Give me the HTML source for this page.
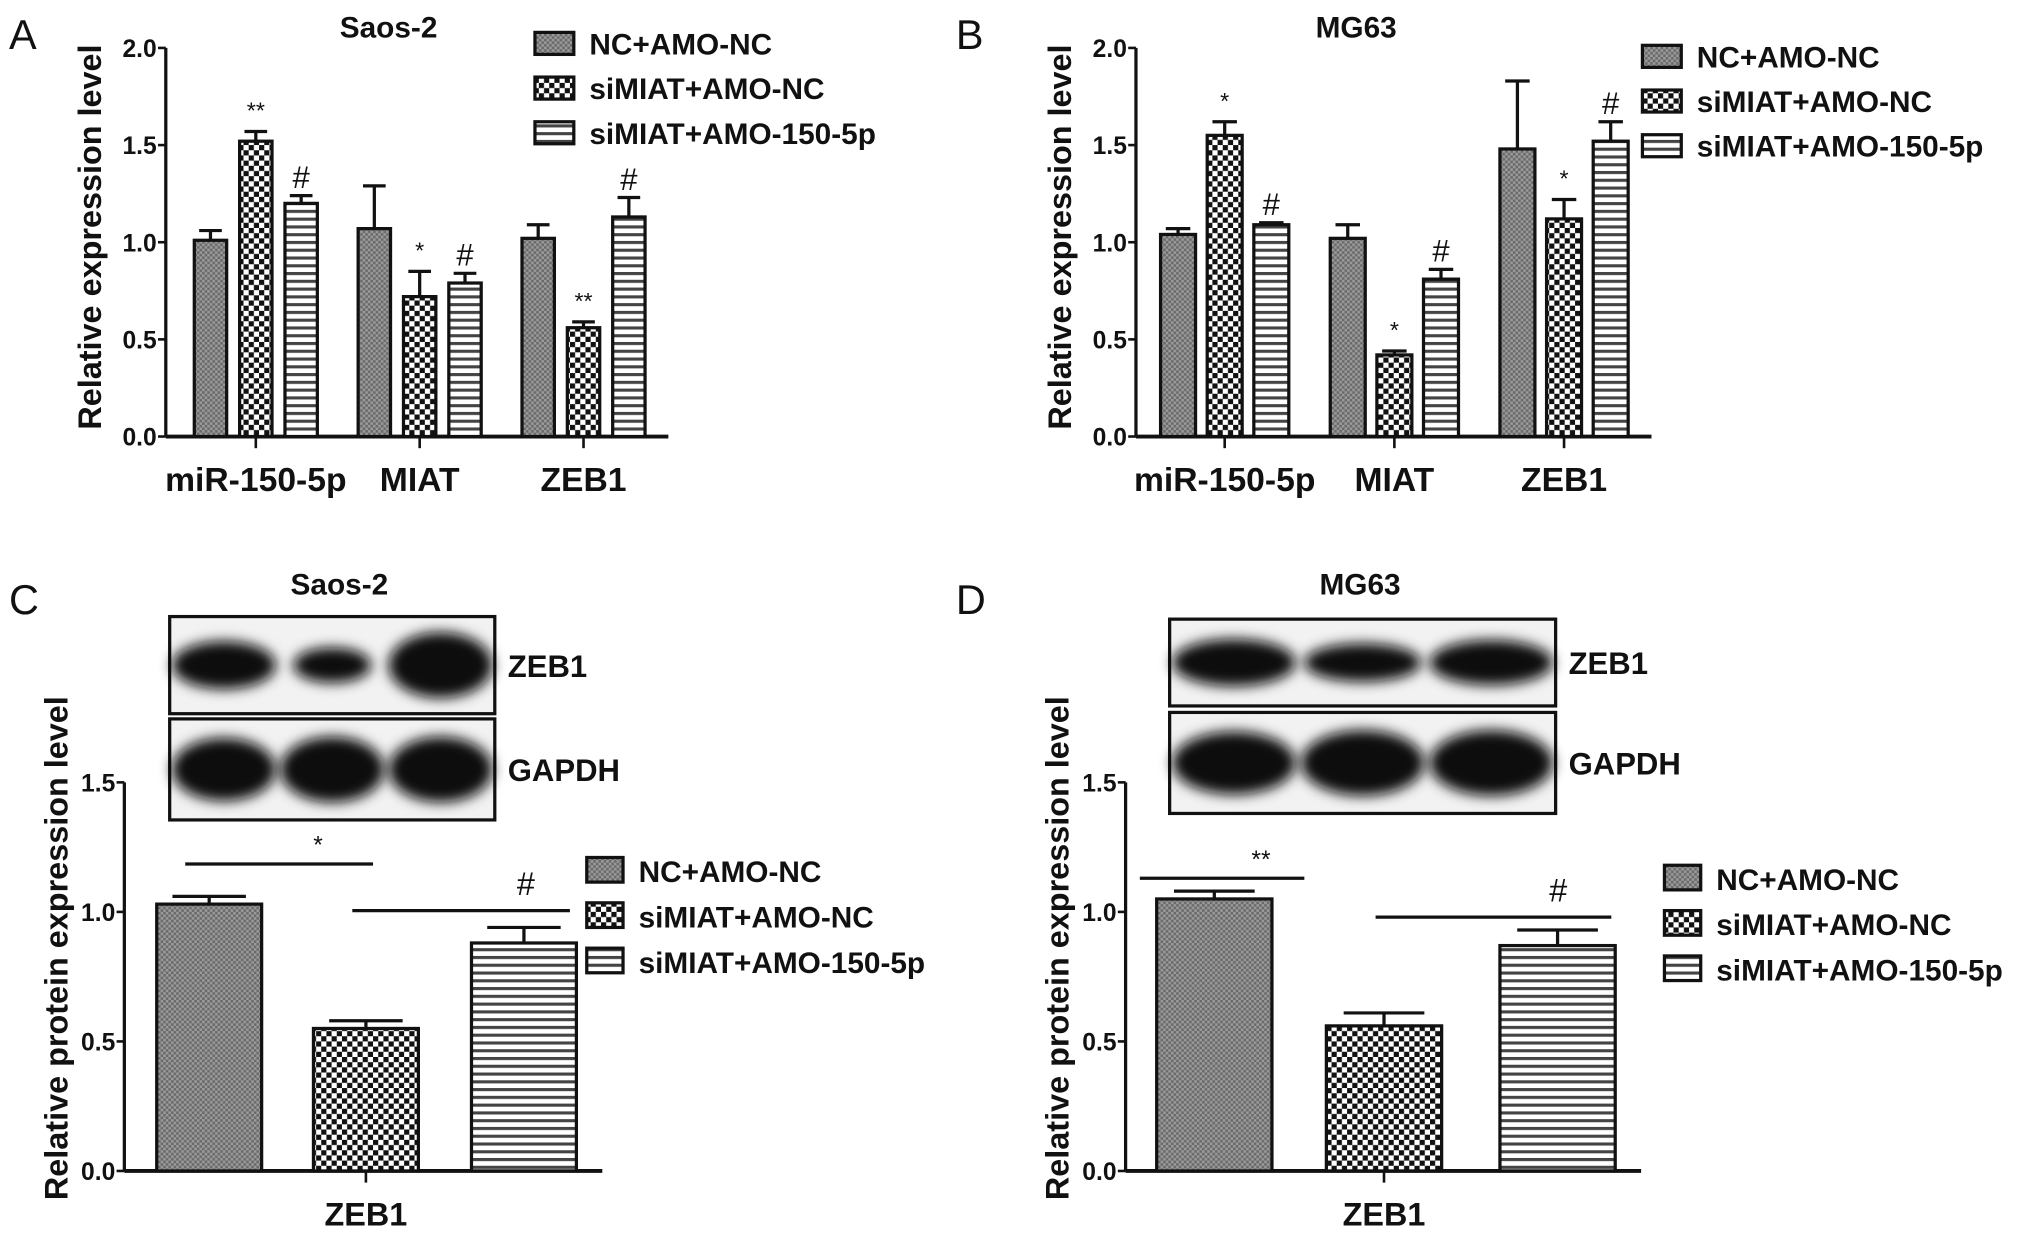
<!DOCTYPE html>
<html><head><meta charset="utf-8"><style>
html,body{margin:0;padding:0;background:#fff;}
svg{display:block;}
text{font-family:"Liberation Sans",Arial,sans-serif;}
</style></head><body>
<svg id="fig" xmlns="http://www.w3.org/2000/svg" width="2031" height="1240" viewBox="0 0 1568 957.3" preserveAspectRatio="none">
<defs>
<pattern id="patNC" width="4" height="4" patternUnits="userSpaceOnUse"><rect width="4" height="4" fill="#6a6a6a"/><rect width="2" height="2" fill="#9a9a9a"/><rect x="2" y="2" width="2" height="2" fill="#9a9a9a"/></pattern>
<pattern id="patSI" width="8" height="8" patternUnits="userSpaceOnUse"><rect width="8" height="8" fill="#fff"/><rect width="4" height="4" fill="#111"/><rect x="4" y="4" width="4" height="4" fill="#111"/></pattern>
<pattern id="patAMO" width="6" height="6" patternUnits="userSpaceOnUse"><rect width="6" height="6" fill="#fff"/><rect y="0" width="6" height="2.4" fill="#444"/></pattern>
<filter id="blur" x="-20%" y="-50%" width="140%" height="200%"><feGaussianBlur stdDeviation="5"/></filter>
</defs>
</svg>
<script>
// ---- data ----
const groupsTop = ["miR-150-5p","MIAT","ZEB1"];
const seriesNames = ["NC+AMO-NC","siMIAT+AMO-NC","siMIAT+AMO-150-5p"];
const aNC  = [1.01,1.07,1.02];
const aSi  = [1.52,0.72,0.56];
const aAmo = [1.20,0.79,1.13];
const aNCErr  = [0.05,0.22,0.07];
const aSiErr  = [0.05,0.13,0.03];
const aAmoErr = [0.04,0.05,0.10];
const aSiMark  = ["**","*","**"];
const aAmoMark = ["#","#","#"];
const bNC  = [1.04,1.02,1.48];
const bSi  = [1.55,0.42,1.12];
const bAmo = [1.09,0.81,1.52];
const bNCErr  = [0.03,0.07,0.35];
const bSiErr  = [0.07,0.02,0.10];
const bAmoErr = [0.01,0.05,0.10];
const bSiMark  = ["*","*","*"];
const bAmoMark = ["#","#","#"];
const topTicks = [0,0.5,1.0,1.5,2.0];
const botTicks = [0,0.5,1.0,1.5];
const cVals = [1.03,0.55,0.88];
const cErr  = [0.03,0.03,0.06];
const dVals = [1.05,0.56,0.87];
const dErr  = [0.03,0.05,0.06];
const cSig = ["*","#"];
const dSig = ["**","#"];

const svg = document.getElementById('fig');
const NS = "http://www.w3.org/2000/svg";
function el(tag, attrs, parent){
  const e = document.createElementNS(NS, tag);
  for (const k in attrs) e.setAttribute(k, attrs[k]);
  (parent||svg).appendChild(e);
  return e;
}
function txt(s, x, y, size, opts, parent){
  const t = el('text', Object.assign({x:x, y:y, 'font-size':size, 'font-weight':'bold', fill:'#111'}, opts||{}), parent);
  t.textContent = s;
  return t;
}
const pats = ["url(#patNC)","url(#patSI)","url(#patAMO)"];

function axes(g, x0, y0, yTop, xEnd, ticks, max){
  const ys = v => y0 - (v/max)*(y0-yTop);
  el('line',{x1:x0,y1:y0,x2:x0,y2:yTop,stroke:'#111','stroke-width':2.5},g);
  el('line',{x1:x0,y1:y0,x2:xEnd,y2:y0,stroke:'#111','stroke-width':3},g);
  ticks.forEach(v=>{
    el('line',{x1:x0-6,y1:ys(v),x2:x0,y2:ys(v),stroke:'#111','stroke-width':2},g);
    const t = txt(v.toFixed(1), x0-7, ys(v)+7, 19, {'text-anchor':'end'}, g);
    
    
  });
  return ys;
}
function bar(g, x, w, v, err, ys, pi){
  const r = el('rect',{x:x,y:ys(v),width:w,height:ys(0)-ys(v),fill:pats[pi],stroke:'#111','stroke-width':2.5},g);
  
  
  const cx = x + w/2, ye = ys(v+err);
  el('line',{x1:cx,y1:ys(v),x2:cx,y2:ye,stroke:'#111','stroke-width':2.5},g);
  el('line',{x1:cx-w*0.35,y1:ye,x2:cx+w*0.35,y2:ye,stroke:'#111','stroke-width':2.5},g);
  return ye;
}
function legend(g, x, y0, dy, sw, sh, fs){
  seriesNames.forEach((n,i)=>{
    const lg = el('g',{},g);
    
    
    el('rect',{x:x,y:y0+i*dy,width:sw,height:sh,fill:pats[i],stroke:'#111','stroke-width':2.5},lg);
    txt(n, x+sw+12, y0+i*dy+sh, fs, {}, lg);
  });
}

// ---- Panel top (A/B) ----
function topPanel(cfg){
  const g = el('g',{});
  
  
  const ys = axes(g, cfg.x0, 337, 37, cfg.xEnd, topTicks, 2.0);
  const sets = [[cfg.nc,cfg.ncE,null],[cfg.si,cfg.siE,cfg.siM],[cfg.amo,cfg.amoE,cfg.amoM]];
  groupsTop.forEach((gn,gi)=>{
    const gx = cfg.g0 + gi*cfg.gs;
    sets.forEach((s,si)=>{
      const bx = gx + si*cfg.off;
      const ye = bar(g, bx, cfg.bw, s[0][gi], s[1][gi], ys, si);
      if (s[2]) {
        const m = s[2][gi];
        const t = txt(m, bx+cfg.bw/2, ye-(m==="#"?6:10), m==="#"?24:18, {'text-anchor':'middle','font-weight':'normal'}, g);
        
        
      }
    });
    const cx = gx + cfg.off + cfg.bw/2;
    el('line',{x1:cx,y1:337,x2:cx,y2:346,stroke:'#111','stroke-width':2},g);
    const t = txt(gn, cx, 379, 26, {'text-anchor':'middle'}, g);
    
    
  });
  const yl = txt("Relative expression level", 0, 0, 25, {'text-anchor':'middle', transform:`translate(${cfg.x0-50},183) rotate(-90)`}, g);
  
  
  const ti = txt(cfg.title, cfg.tx, 29, 23, {'text-anchor':'middle'}, g);
  
  
  const pl = txt(cfg.letter, cfg.lx, 38, 32, {'font-weight':'normal'}, g);
  
  
  legend(g, cfg.legX, cfg.legY, 34.5, 30, 17, 23);
}
topPanel({name:'panel-a', x0:128, xEnd:516, g0:150, gs:126.5, off:35, bw:25,
  nc:aNC,ncE:aNCErr,si:aSi,siE:aSiErr,siM:aSiMark,amo:aAmo,amoE:aAmoErr,amoM:aAmoMark,
  title:'Saos-2', tx:300, letter:'A', lx:7, legX:413, legY:25});
topPanel({name:'panel-b', x0:877, xEnd:1275, g0:896, gs:131, off:36, bw:27,
  nc:bNC,ncE:bNCErr,si:bSi,siE:bSiErr,siM:bSiMark,amo:bAmo,amoE:bAmoErr,amoM:bAmoMark,
  title:'MG63', tx:1047, letter:'B', lx:738, legX:1268, legY:35});

// ---- Panel bottom (C/D) ----
function blot(g, bx, by, bw, bh, sizes, label, name){
  const bg = el('g',{},g);
  
  
  el('rect',{x:bx,y:by,width:bw,height:bh,fill:'#f2f2f2',stroke:'#111','stroke-width':2.5},bg);
  const lw = bw/3;
  sizes.forEach((s,i)=>{
    el('ellipse',{cx:bx+lw*(i+0.5),cy:by+bh*0.5,rx:lw*0.48*s[0],ry:bh*0.26*s[1],fill:'#0a0a0a',filter:'url(#blur)'},bg);
  });
  txt(label, bx+bw+10, by+bh/2+9, 24, {}, bg);
}
function botPanel(cfg){
  const g = el('g',{});
  
  
  const ys = axes(g, cfg.x0, 904, 604, cfg.xEnd, botTicks, 1.5);
  cfg.vals.forEach((v,i)=>{
    bar(g, cfg.bx[i], cfg.bw, v, cfg.err[i], ys, i);
  });
  const cx = cfg.bx[1] + cfg.bw/2;
  el('line',{x1:cx,y1:904,x2:cx,y2:913,stroke:'#111','stroke-width':2},g);
  const xl = txt("ZEB1", cx, 946, 25, {'text-anchor':'middle'}, g);
  
  
  const s1 = el('line',{x1:cfg.s1[0],y1:cfg.s1[2],x2:cfg.s1[1],y2:cfg.s1[2],stroke:'#111','stroke-width':2.5},g);
  
  
  txt(cfg.sig[0], (cfg.s1[0]+cfg.s1[1])/2+30, cfg.s1[2]-8, 19, {'text-anchor':'middle','font-weight':'normal'}, g);
  const s2 = el('line',{x1:cfg.s2[0],y1:cfg.s2[2],x2:cfg.s2[1],y2:cfg.s2[2],stroke:'#111','stroke-width':2.5},g);
  
  
  txt(cfg.sig[1], (cfg.s2[0]+cfg.s2[1])/2+50, cfg.s2[2]-12, 25, {'text-anchor':'middle','font-weight':'normal'}, g);
  blot(g, cfg.blot[0], cfg.blot[1], cfg.blot[2], cfg.blot[3], cfg.zebSizes, 'ZEB1', 'zeb1-blot');
  blot(g, cfg.blot[0], cfg.blot[4], cfg.blot[2], cfg.blot[5], [[1,1.2],[1,1.25],[1,1.25]], 'GAPDH', 'gapdh-blot');
  const yl = txt("Relative protein expression level", 0, 0, 25, {'text-anchor':'middle', transform:`translate(${cfg.x0-44},732) rotate(-90)`}, g);
  
  
  const ti = txt(cfg.title, cfg.tx, 459, 23, {'text-anchor':'middle'}, g);
  
  
  const pl = txt(cfg.letter, cfg.lx, 474, 32, {'font-weight':'normal'}, g);
  
  
  legend(g, cfg.legX, cfg.legY, 35, 28, 19, 23);
}
botPanel({name:'panel-c', x0:96, xEnd:465, bx:[121,242,364], bw:81, vals:cVals, err:cErr, sig:cSig,
  s1:[143,288,667], s2:[272,440,703],
  blot:[131,476,251,75,555,78], zebSizes:[[1,0.95],[0.75,0.7],[1,1.3]],
  title:'Saos-2', tx:262, letter:'C', lx:7, legX:453, legY:662});
botPanel({name:'panel-d', x0:869, xEnd:1267, bx:[893,1024,1158], bw:89, vals:dVals, err:dErr, sig:dSig,
  s1:[880,1007,678], s2:[1062,1244,708],
  blot:[903,478,298,67,550,78], zebSizes:[[1,1.05],[0.95,0.85],[1,1.0]],
  title:'MG63', tx:1050, letter:'D', lx:738, legX:1285, legY:668});
</script>
</body></html>
